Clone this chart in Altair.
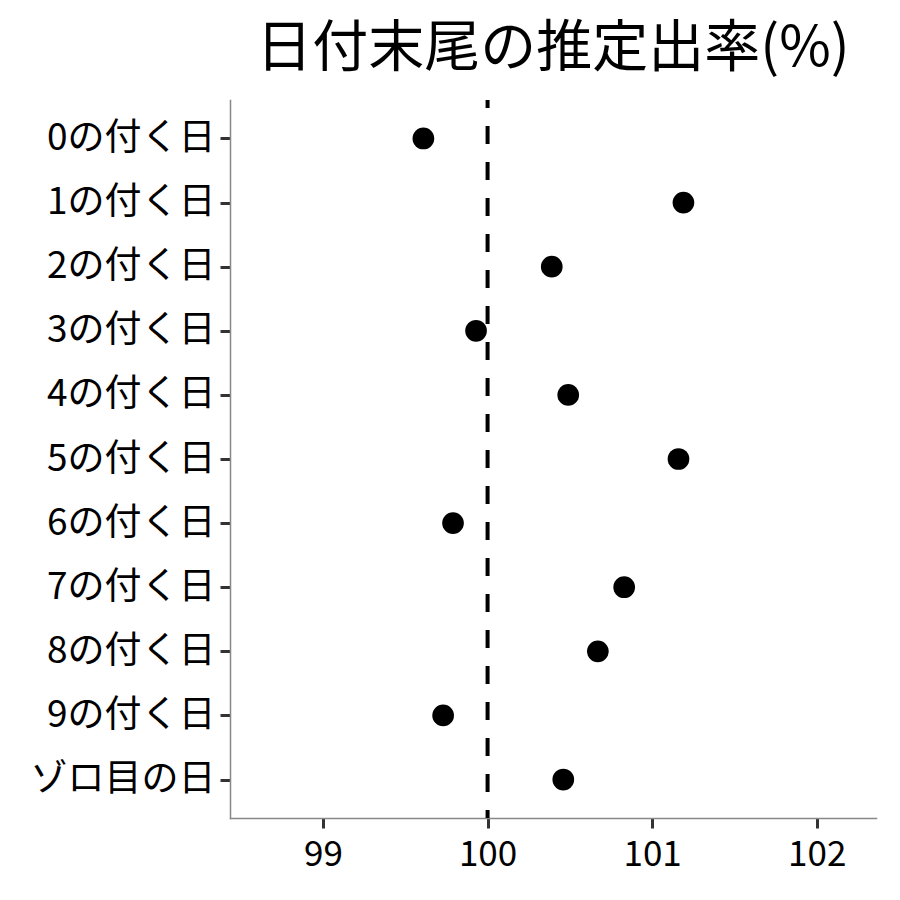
import altair as alt
import pandas as pd

categories = ["0の付く日", "1の付く日", "2の付く日", "3の付く日", "4の付く日",
              "5の付く日", "6の付く日", "7の付く日", "8の付く日", "9の付く日", "ゾロ目の日"]
values = [99.61, 101.19, 100.39, 99.93, 100.49, 101.16, 99.79, 100.83, 100.67, 99.73, 100.46]
ref_value = [100]
x_ticks = [99, 100, 101, 102]

df = pd.DataFrame({"cat": categories, "val": values})
ref = pd.DataFrame({"ref": ref_value})

FONT = "Noto Sans CJK JP"

xscale = alt.Scale(domain=[98.435, 102.36], nice=False, zero=False)
yscale = alt.Scale(type="point", domain=categories, padding=0.6)

points = alt.Chart(df).mark_circle(size=470, color="black", opacity=1).encode(
    x=alt.X("val:Q", scale=xscale, title=None,
            axis=alt.Axis(values=x_ticks, grid=False, domainColor="#888888", domainWidth=1.5,
                          tickColor="#333333", tickWidth=3, tickSize=10,
                          labelFont=FONT, labelFontSize=35, labelColor="black",
                          labelPadding=9, format="d")),
    y=alt.Y("cat:N", scale=yscale, sort=categories, title=None,
            axis=alt.Axis(grid=False, domainColor="#888888", domainWidth=1.5,
                          tickColor="#333333", tickWidth=3, tickSize=10,
                          labelFont=FONT, labelFontSize=37, labelColor="black",
                          labelPadding=5, labelLimit=400)),
)

rule = alt.Chart(ref).mark_rule(color="black", strokeWidth=4, strokeDash=[18, 18],
                                 strokeDashOffset=10).encode(
    x=alt.X("ref:Q", scale=xscale)
)

chart = alt.layer(rule, points).properties(
    width=646, height=718,
    autosize=alt.AutoSizeParams(type="none"),
    padding={"left": 222, "top": 92, "right": 10, "bottom": 74},
    title=alt.TitleParams("日付末尾の推定出率(%)", font=FONT, fontSize=56, fontWeight="normal",
                          color="black", anchor="middle", offset=20),
).configure_view(stroke=None).configure_axis(domainCap="square")

chart.save("out.html", embed_options={"renderer": "svg", "actions": False})
